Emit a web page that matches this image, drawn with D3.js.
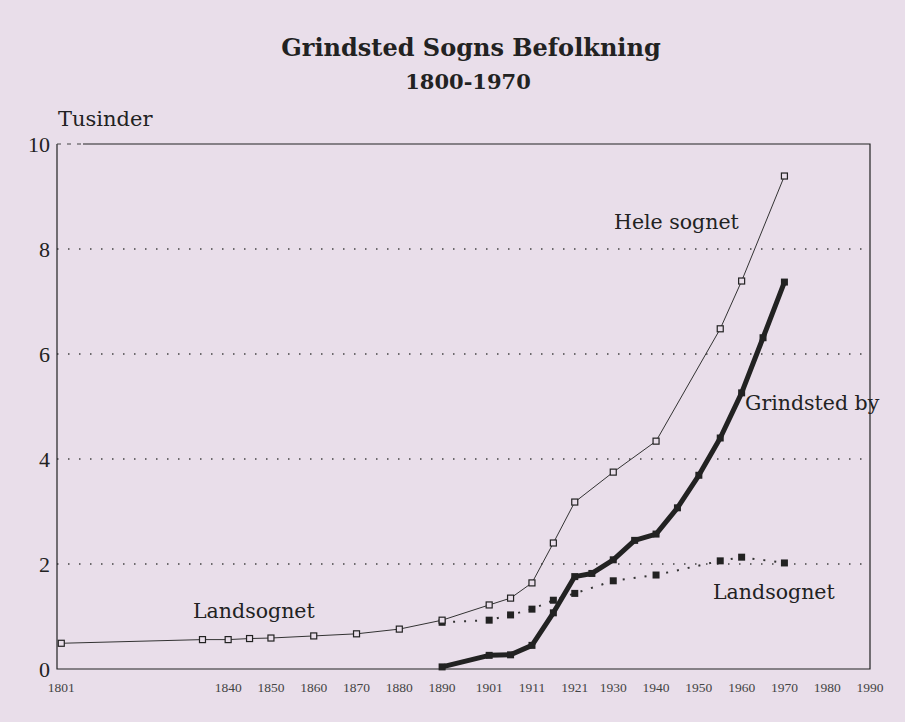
<!DOCTYPE html>
<html>

<head>
    <meta charset="utf-8">
    <title>Grindsted Sogns Befolkning</title>
    <script src="https://unpkg.com/d3@7.8.2/dist/d3.min.js"></script>
    <style>
        body { margin: 0; background: #e9deea; }
        text { font-family: "DejaVu Serif", serif; fill: #222; }
    </style>
</head>

<body>
    <div id="chart"></div>

    <script>
        // population in thousands
        const heleYears = [1801, 1834, 1840, 1845, 1850, 1860, 1870, 1880, 1890, 1901, 1906, 1911, 1916, 1921, 1930, 1940, 1955, 1960, 1970];
        const heleValues = [0.49, 0.56, 0.56, 0.58, 0.59, 0.63, 0.67, 0.76, 0.93, 1.22, 1.35, 1.64, 2.40, 3.18, 3.75, 4.34, 6.48, 7.39, 9.39];

        const byYears = [1890, 1901, 1906, 1911, 1916, 1921, 1925, 1930, 1935, 1940, 1945, 1950, 1955, 1960, 1965, 1970];
        const byValues = [0.04, 0.26, 0.27, 0.45, 1.07, 1.76, 1.82, 2.08, 2.45, 2.57, 3.07, 3.69, 4.40, 5.26, 6.31, 7.37];

        const landYears = [1890, 1901, 1906, 1911, 1916, 1921, 1930, 1940, 1955, 1960, 1970];
        const landValues = [0.89, 0.93, 1.03, 1.14, 1.31, 1.44, 1.68, 1.79, 2.06, 2.13, 2.02];

        const xTicks = [1801, 1840, 1850, 1860, 1870, 1880, 1890, 1901, 1911, 1921, 1930, 1940, 1950, 1960, 1970, 1980, 1990];
        const yTicks = [0, 2, 4, 6, 8, 10];

        const width = 905;
        const height = 722;

        const svg = d3.select("#chart")
            .append("svg")
            .attr("width", width)
            .attr("height", height);

        const x = d3.scaleLinear().domain([1800, 1990]).range([57, 870]);
        const y = d3.scaleLinear().domain([0, 10]).range([669, 144]);

        // titles
        svg.append("text")
            .attr("x", 471).attr("y", 56)
            .attr("text-anchor", "middle")
            .style("font-size", "24px").style("font-weight", "bold")
            .text("Grindsted Sogns Befolkning");
        svg.append("text")
            .attr("x", 468).attr("y", 89)
            .attr("text-anchor", "middle")
            .style("font-size", "21px").style("font-weight", "bold")
            .text("1800-1970");
        svg.append("text")
            .attr("x", 58).attr("y", 126)
            .style("font-size", "21px")
            .text("Tusinder");

        // dotted grid lines
        svg.selectAll(".grid")
            .data(yTicks.filter(d => d > 0 && d < 10))
            .enter()
            .append("line")
            .attr("x1", x.range()[0]).attr("x2", x.range()[1])
            .attr("y1", d => y(d)).attr("y2", d => y(d))
            .attr("stroke", "#444")
            .attr("stroke-width", 1.4)
            .attr("stroke-dasharray", "1.5,9.5");

        // frame: left, bottom, right, and top (dashed at its very start)
        const [x0, x1] = x.range();
        const [yb, yt] = y.range();
        svg.append("path")
            .attr("d", `M${x0},${yt}V${yb}H${x1}V${yt}H${x0 + 26}`)
            .attr("fill", "none")
            .attr("stroke", "#222")
            .attr("stroke-width", 1.2);
        svg.append("line")
            .attr("x1", x0).attr("x2", x0 + 26)
            .attr("y1", yt).attr("y2", yt)
            .attr("stroke", "#444")
            .attr("stroke-width", 1.2)
            .attr("stroke-dasharray", "4,6");

        // y labels
        svg.selectAll(".ylab")
            .data(yTicks)
            .enter()
            .append("text")
            .attr("x", 50)
            .attr("y", d => y(d) + 8)
            .attr("text-anchor", "end")
            .style("font-size", "22px")
            .style("font-family", "Liberation Serif")
            .text(d => d);

        // x labels
        svg.selectAll(".xlab")
            .data(xTicks)
            .enter()
            .append("text")
            .attr("x", d => x(d))
            .attr("y", 692)
            .attr("text-anchor", "middle")
            .style("font-size", "13.5px")
            .style("font-family", "Liberation Serif")
            .style("fill", "#444")
            .text(d => d);

        const line = d3.line()
            .x(d => x(d[0]))
            .y(d => y(d[1]));

        const hele = heleYears.map((d, i) => [d, heleValues[i]]);
        const by = byYears.map((d, i) => [d, byValues[i]]);
        const land = landYears.map((d, i) => [d, landValues[i]]);

        // Landsognet, dotted
        svg.append("path")
            .attr("d", line(land))
            .attr("fill", "none")
            .attr("stroke", "#333")
            .attr("stroke-width", 2)
            .attr("stroke-dasharray", "2,9");
        svg.selectAll(".landpt")
            .data(land)
            .enter()
            .append("rect")
            .attr("x", d => x(d[0]) - 3.5)
            .attr("y", d => y(d[1]) - 3.5)
            .attr("width", 7).attr("height", 7)
            .attr("fill", "#222");

        // Hele sognet, thin line with open squares
        svg.append("path")
            .attr("d", line(hele))
            .attr("fill", "none")
            .attr("stroke", "#333")
            .attr("stroke-width", 1);
        svg.selectAll(".helept")
            .data(hele)
            .enter()
            .append("rect")
            .attr("x", d => x(d[0]) - 3)
            .attr("y", d => y(d[1]) - 3)
            .attr("width", 6).attr("height", 6)
            .attr("fill", "#e9deea")
            .attr("stroke", "#222")
            .attr("stroke-width", 1.2);

        // Grindsted by, thick line
        svg.append("path")
            .attr("d", line(by))
            .attr("fill", "none")
            .attr("stroke", "#222")
            .attr("stroke-width", 5)
            .attr("stroke-linejoin", "round");
        svg.selectAll(".bypt")
            .data(by)
            .enter()
            .append("rect")
            .attr("x", d => x(d[0]) - 3.5)
            .attr("y", d => y(d[1]) - 3.5)
            .attr("width", 7).attr("height", 7)
            .attr("fill", "#222");

        // series labels
        const labels = [
            { text: "Hele sognet", x: 614, y: 229 },
            { text: "Grindsted by", x: 745, y: 410 },
            { text: "Landsognet", x: 713, y: 599 },
            { text: "Landsognet", x: 193, y: 618 }
        ];
        svg.selectAll(".serlab")
            .data(labels)
            .enter()
            .append("text")
            .attr("x", d => d.x)
            .attr("y", d => d.y)
            .style("font-size", "20.5px")
            .text(d => d.text);
    </script>

</body>

</html>
